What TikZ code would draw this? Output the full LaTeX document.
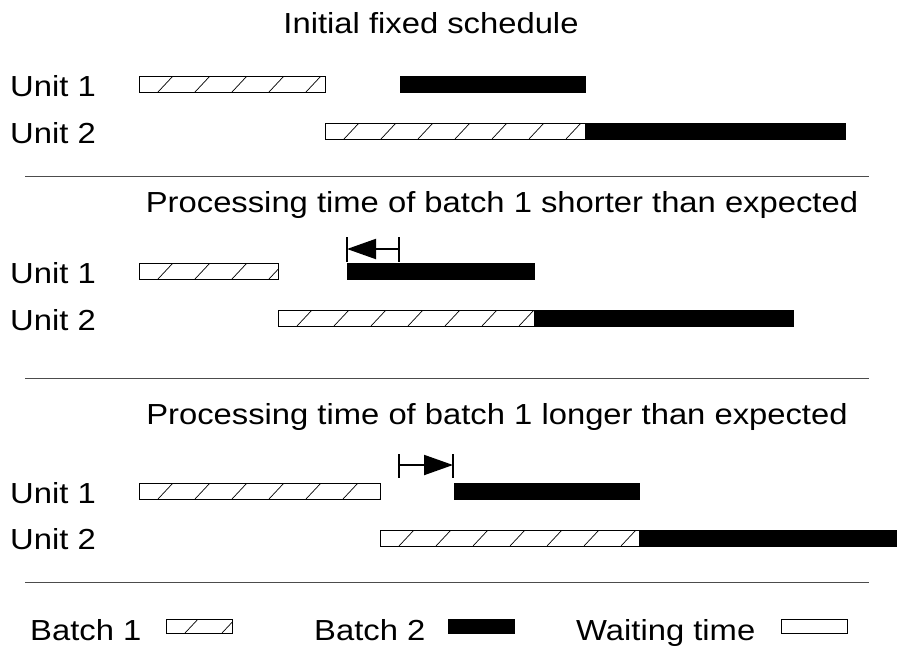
\documentclass[tikz,border=0pt]{standalone}
\usepackage{fontspec}
\setmainfont{Liberation Sans}[FakeStretch=1.13]
\usetikzlibrary{arrows.meta,calc}

\tikzset{
  bar/.style={draw=black, line width=0.8pt, inner sep=0pt, outer sep=0pt,
    minimum height=16pt, anchor=north west},
  batchone/.style={bar, fill=white, path picture={
      \foreach \k in {0,...,24}{
        \draw[line width=0.7pt]
          ($(path picture bounding box.south west)+(19pt+37pt*\k,0pt)$) --
          ++(15pt,16pt);
      }}},
  batchtwo/.style={bar, fill=black},
  waiting/.style={bar, fill=white},
  label/.style={anchor=base west, inner sep=0pt, font=\fontsize{29}{34}\selectfont},
  heading/.style={anchor=base, inner sep=0pt, font=\fontsize{29}{34}\selectfont},
  rule/.style={draw=black!70, line width=1pt},
  tick/.style={line width=2pt},
  shift arrow/.style={line width=2pt, -{Triangle[length=29pt,width=20pt]}}
}

\begin{document}
\begin{tikzpicture}[x=1pt, y=-1pt]
\useasboundingbox (0,0) rectangle (897,649);

% ---- initial fixed schedule ----
\node[heading] (h1) at (431,33) {Initial fixed schedule};
\node[label] (u11) at (10,96) {Unit 1};
\node[label] (u12) at (10,143) {Unit 2};
\node[batchone, minimum width=186pt] (a1) at (139,76) {};
\node[batchtwo, minimum width=185pt] (b1) at (400,76) {};
\node[batchone, minimum width=260pt] (a2) at (325,123) {};
\node[batchtwo, minimum width=260pt] (b2) at (585,123) {};

\coordinate (r1a) at (25,176);
\coordinate (r1b) at (869,176);
\draw[rule] (r1a) -- (r1b);

% ---- shorter processing time ----
\node[heading] (h2) at (502,212) {Processing time of batch 1 shorter than expected};
\node[label] (u21) at (10,283) {Unit 1};
\node[label] (u22) at (10,330) {Unit 2};
\node[batchone, minimum width=139pt] (c1) at (139,263) {};
\node[batchtwo, minimum width=187pt] (d1) at (347,263) {};
\node[batchone, minimum width=256pt] (c2) at (278,310) {};
\node[batchtwo, minimum width=259pt] (d2) at (534,310) {};

\coordinate (s1) at (399,249);
\coordinate (s2) at (347,249);
\draw[tick] ($(s1)+(0,-12)$) -- ($(s1)+(0,13)$);
\draw[tick] ($(s2)+(0,-12)$) -- ($(s2)+(0,13)$);
\draw[shift arrow] (s1) -- (s2);

\coordinate (r2a) at (25,378);
\coordinate (r2b) at (869,378);
\draw[rule] (r2a) -- (r2b);

% ---- longer processing time ----
\node[heading] (h3) at (497,424) {Processing time of batch 1 longer than expected};
\node[label] (u31) at (10,503) {Unit 1};
\node[label] (u32) at (10,549) {Unit 2};
\node[batchone, minimum width=241pt] (e1) at (139,483) {};
\node[batchtwo, minimum width=185pt] (f1) at (454,483) {};
\node[batchone, minimum width=259pt] (e2) at (380,530) {};
\node[batchtwo, minimum width=260pt] (f2) at (639,530) {};

\coordinate (l1) at (399,465);
\coordinate (l2) at (453,465);
\draw[tick] ($(l1)+(0,-11)$) -- ($(l1)+(0,13)$);
\draw[tick] ($(l2)+(0,-11)$) -- ($(l2)+(0,13)$);
\draw[shift arrow] (l1) -- (l2);

\coordinate (r3a) at (25,582);
\coordinate (r3b) at (869,582);
\draw[rule] (r3a) -- (r3b);

% ---- legend ----
\node[label] (k1) at (30,640) {Batch 1};
\node[batchone, minimum width=66pt, minimum height=14pt] (k1box) at (166,619) {};
\node[label] (k2) at (314,640) {Batch 2};
\node[batchtwo, minimum width=66pt, minimum height=14pt] (k2box) at (448,619) {};
\node[label] (k3) at (576,640) {Waiting time};
\node[waiting, minimum width=66pt, minimum height=14pt] (k3box) at (781,619) {};
\end{tikzpicture}
\end{document}
